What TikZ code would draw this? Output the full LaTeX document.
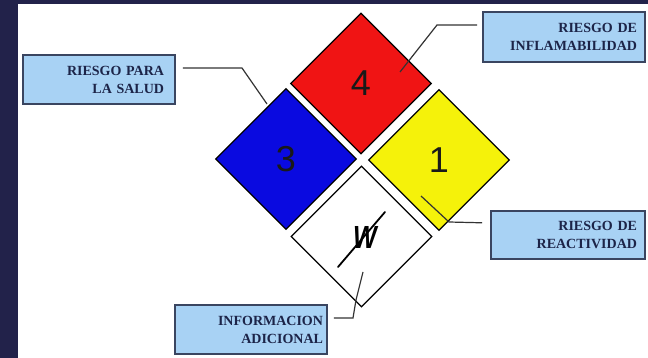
\documentclass[tikz,border=0pt]{standalone}
\usepackage{fontspec}
\setmainfont{Liberation Serif}
\setsansfont{Liberation Sans}
\usetikzlibrary{shapes.geometric}
\definecolor{frame}{HTML}{22224A}
\definecolor{hred}{HTML}{F01414}
\definecolor{hblue}{HTML}{0A0AE0}
\definecolor{hyellow}{HTML}{F5F20A}
\definecolor{boxfill}{HTML}{A8D2F4}
\definecolor{boxline}{HTML}{3A4560}
\definecolor{boxtext}{HTML}{1C2448}
\definecolor{conline}{HTML}{333333}
\begin{document}
\begin{tikzpicture}[x=1pt,y=-1pt,
  quad/.style={diamond, draw=black, line width=1.3pt, minimum width=141pt,
    minimum height=141pt, inner sep=0pt, aspect=1,
    font=\fontsize{36}{36}\selectfont\sffamily, text=black!90},
  tag/.style={draw=boxline, line width=1.9pt, fill=boxfill, inner ysep=0pt,
    align=right, font=\fontsize{14}{18}\selectfont\bfseries, text=boxtext},
  conn/.style={draw=conline, line width=1.2pt}]
\useasboundingbox (0,0) rectangle (648,358);
\fill[frame] (0,0) rectangle (648,358);
\fill[white] (17.5,4.3) rectangle (648,358);

% diamonds
\node[quad, fill=hred]    (flam)    at (361,83.5)   {4};
\node[quad, fill=hblue]   (health)  at (286,159)    {3};
\node[quad, fill=hyellow] (reac)    at (439,160)    {1};
\node[quad, fill=white]   (special) at (361.5,236.5) {};
\node[font=\fontsize{32}{32}\selectfont\sffamily\bfseries\itshape, inner sep=0pt] (wsym)
  at (365,237.5) {\scalebox{0.78}[1]{W}};
\draw[line width=1.8pt, line cap=round] (338,267) -- (385,212);

% label boxes
\node[tag, text width=130pt, inner xsep=11pt, minimum height=49pt] (salud)
  at (99,79.5) {RIESGO PARA\\LA SALUD};
\node[tag, text width=146pt, inner xsep=8pt, minimum height=50pt] (infl)
  at (564,37) {RIESGO DE\\INFLAMABILIDAD};
\node[tag, text width=138pt, inner xsep=8pt, minimum height=48pt] (reactbox)
  at (568,235) {RIESGO DE\\REACTIVIDAD};
\node[tag, text width=144pt, inner xsep=4pt, minimum height=49pt] (info)
  at (251,329.5) {INFORMACION\\ADICIONAL};

% connectors
\coordinate (sEnd) at (267,104);
\coordinate (fEnd) at (400,72);
\coordinate (rEnd) at (421,196);
\coordinate (iEnd) at (363,272);
\draw[conn, shorten <=7pt] ([yshift=11.5pt]salud.east) -- (242,68) -- (sEnd);
\draw[conn, shorten <=5pt] ([yshift=12pt]infl.west) -- (437,25) -- (fEnd);
\draw[conn, shorten <=8pt] ([yshift=12pt]reactbox.west) -- (449,222) -- (rEnd);
\draw[conn, shorten <=6pt] ([yshift=11.5pt]info.east) -- (353,318) -- (356,300) -- (iEnd);
\end{tikzpicture}
\end{document}
